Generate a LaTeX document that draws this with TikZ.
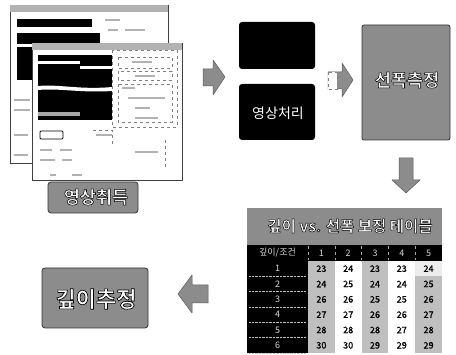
\documentclass[tikz,border=0pt]{standalone}
\usepackage{fontspec}
\newfontfamily\kr[FakeBold=3]{Noto Sans CJK KR Bold}
\newfontfamily\krn{Noto Sans CJK KR}
\newfontfamily\krm[FakeBold=1]{Noto Sans CJK KR}
\newcommand{\outl}[1]{{\kr\color{white}\special{pdf:code 0 G}#1}}
\definecolor{mg}{gray}{0.55}
\definecolor{lg}{gray}{0.75}
\tikzset{
  arrowshape/.style={fill=mg, draw=gray!70!black, line width=0.5pt, line join=round},
  graybox/.style={fill=mg, draw=gray!40!black, line width=0.8pt, rounded corners=3pt},
  blackpart/.style={fill=black, rounded corners=3pt},
  win/.style={fill=white, draw=gray!50!black, line width=0.8pt},
  titlebar/.style={fill=gray!60},
  dbox/.style={draw=gray, dashed, line width=0.5pt},
  fakeline/.style={gray!60, line width=1.2pt},
  cellgray/.style={fill=lg, draw=none},
  cellwhite/.style={fill=white, draw=none},
  num/.style={font=\krm\fontsize{9}{9}\selectfont, text=black},
  hnum/.style={font=\krn\fontsize{9}{9}\selectfont, text=gray!30},
}
\begin{document}
\begin{tikzpicture}[x=1pt,y=-1pt]
\useasboundingbox (0,0) rectangle (456,355);
% ---- back window
\draw[win] (10,5) rectangle (168,163);
\fill[titlebar] (10,5) rectangle (168,12);
\fill[black] (17,19) rectangle (92,27);
\fill[black] (17,33) rectangle (100,80);
\fill[white] (17,44) rectangle (32,47);
\draw[fakeline] (105,20) -- (120,20) (108,30) -- (118,30) (125,30) -- (145,30);
\draw[fakeline] (14,100) -- (30,100) (14,110) -- (30,110) (14,135) -- (28,135) (14,155) -- (28,155);
% ---- front window
\draw[win] (32,43) rectangle (182,180);
\fill[titlebar] (32,43) rectangle (182,50);
\fill[black] (38,55) rectangle (112,120);
\fill[white] (38,61) rectangle (80,64);
\fill[white] (80,66) rectangle (112,69);
\fill[white] (38,86) .. controls (60,84) and (80,90) .. (112,87) -- (112,91) .. controls (80,93) and (60,88) .. (38,90) -- cycle;
\fill[gray!70] (38,112) rectangle (80,116);
\draw[dbox] (112,50) rectangle (177,127);
\draw[dbox] (118,57) rectangle (172,68);
\draw[dbox] (118,71) rectangle (172,80);
\draw[dbox] (118,84) rectangle (172,122);
\draw[fakeline] (132,62) -- (152,62) (135,76) -- (155,76) (122,88) -- (135,88);
\draw[fakeline] (128,98) -- (165,98) (135,108) -- (150,108) (135,118) -- (158,118);
\draw[draw=black, line width=0.8pt, rounded corners=1pt] (40,131) rectangle (63,139);
\draw[fakeline] (96,135) -- (112,135) (40,150) -- (52,150) (60,150) -- (72,150);
\draw[fakeline] (40,160) -- (55,160) (62,160) -- (72,160) (135,152) -- (158,152);
\draw[fakeline] (50,175) -- (56,175) (72,175) -- (82,175);
\draw[dbox] (93,130) -- (112,130) -- (112,145);
\draw[dbox] (165,140) -- (165,170);
% ---- 영상취득 label
\node[graybox, minimum width=90pt, minimum height=31pt] (acqbox) at (93,197.5) {};
\node[font=\fontsize{17.5}{17.5}\selectfont] (acq) at (96,197) {\outl{영상취득}};
% ---- arrow 1
\draw[arrowshape] (203,69) -- (213,69) -- (213,60) -- (225,77) -- (213,95) -- (213,86) -- (203,86) -- cycle;
% ---- 영상처리
\fill[blackpart] (239,22) rectangle (315,69);
\fill[blackpart] (239,84) rectangle (315,140);
\node[font=\krn\fontsize{14}{14}\selectfont, text=white] (proct) at (278,113) {영상처리};
% ---- arrow 2
\draw[arrowshape] (328,72) -- (342,72) -- (342,63) -- (353,80) -- (342,97) -- (342,89) -- (328,89) -- cycle;
\draw[fill=white, draw=gray, dashed] (328,72) rectangle (337,89);
% ---- 선폭측정
\node[graybox, rounded corners=2pt, minimum width=88pt, minimum height=115pt] (meas) at (406,82.5) {};
\node[font=\fontsize{17.5}{17.5}\selectfont] (meast) at (407,80) {\outl{선폭측정}};
% ---- down arrow
\draw[arrowshape] (399,158) -- (413,158) -- (413,180) -- (420,180) -- (406,193) -- (392,180) -- (399,180) -- cycle;
% ---- table
\fill[mg] (247,208) rectangle (442,245);
\node[font=\fontsize{15.5}{15.5}\selectfont] (ttitle) at (350,226) {\outl{깊이 vs. 선폭 보정 테이블}};
\fill[black] (247,245) rectangle (442,261);
\fill[black] (247,261) rectangle (308,353);
\node[font=\krn\fontsize{9}{9}\selectfont, text=gray!30] (hd) at (277.5,253) {깊이/조건};
\foreach \c in {1,...,5}{
  \node[hnum] (h\c) at ({308+(\c-0.5)*26.8},253) {\c};
  \draw[gray!70, dashed] ({308+(\c-1)*26.8},246) -- ({308+(\c-1)*26.8},260);
}
\foreach \r in {1,...,6}{
  \node[hnum] (rl\r) at (277.5,{261+(\r-0.5)*15.33}) {\r};
  \draw[gray!50, densely dotted] (249,{261+\r*15.33}) -- (306,{261+\r*15.33});
}
\foreach \c/\st in {1/cellgray,2/cellwhite,3/cellgray,4/cellwhite,5/cellgray}{
  \fill[\st] ({308+(\c-1)*26.8},261) rectangle ({308+\c*26.8},353);
}
\fill[white!70!lg] ({308+4*26.8},261) rectangle (442,276);
\foreach \vals [count=\r] in {{23,24,23,23,24},{24,25,24,24,25},{26,26,25,25,26},{27,27,26,26,27},{28,28,28,27,28},{30,30,29,29,29}}{
  \foreach \v [count=\c] in \vals {
    \node[num] (v\r-\c) at ({308+(\c-0.5)*26.8},{261+(\r-0.5)*15.33}) {\v};
  }
}
% ---- left arrow
\draw[arrowshape] (208,285) -- (192,285) -- (192,275) -- (178,294) -- (192,313) -- (192,303) -- (208,303) -- cycle;
% ---- 깊이추정
\node[graybox, minimum width=106pt, minimum height=60pt] (est) at (95,298) {};
\node[font=\fontsize{22}{22}\selectfont] (estt) at (96,299) {\outl{깊이추정}};
\end{tikzpicture}
\end{document}
